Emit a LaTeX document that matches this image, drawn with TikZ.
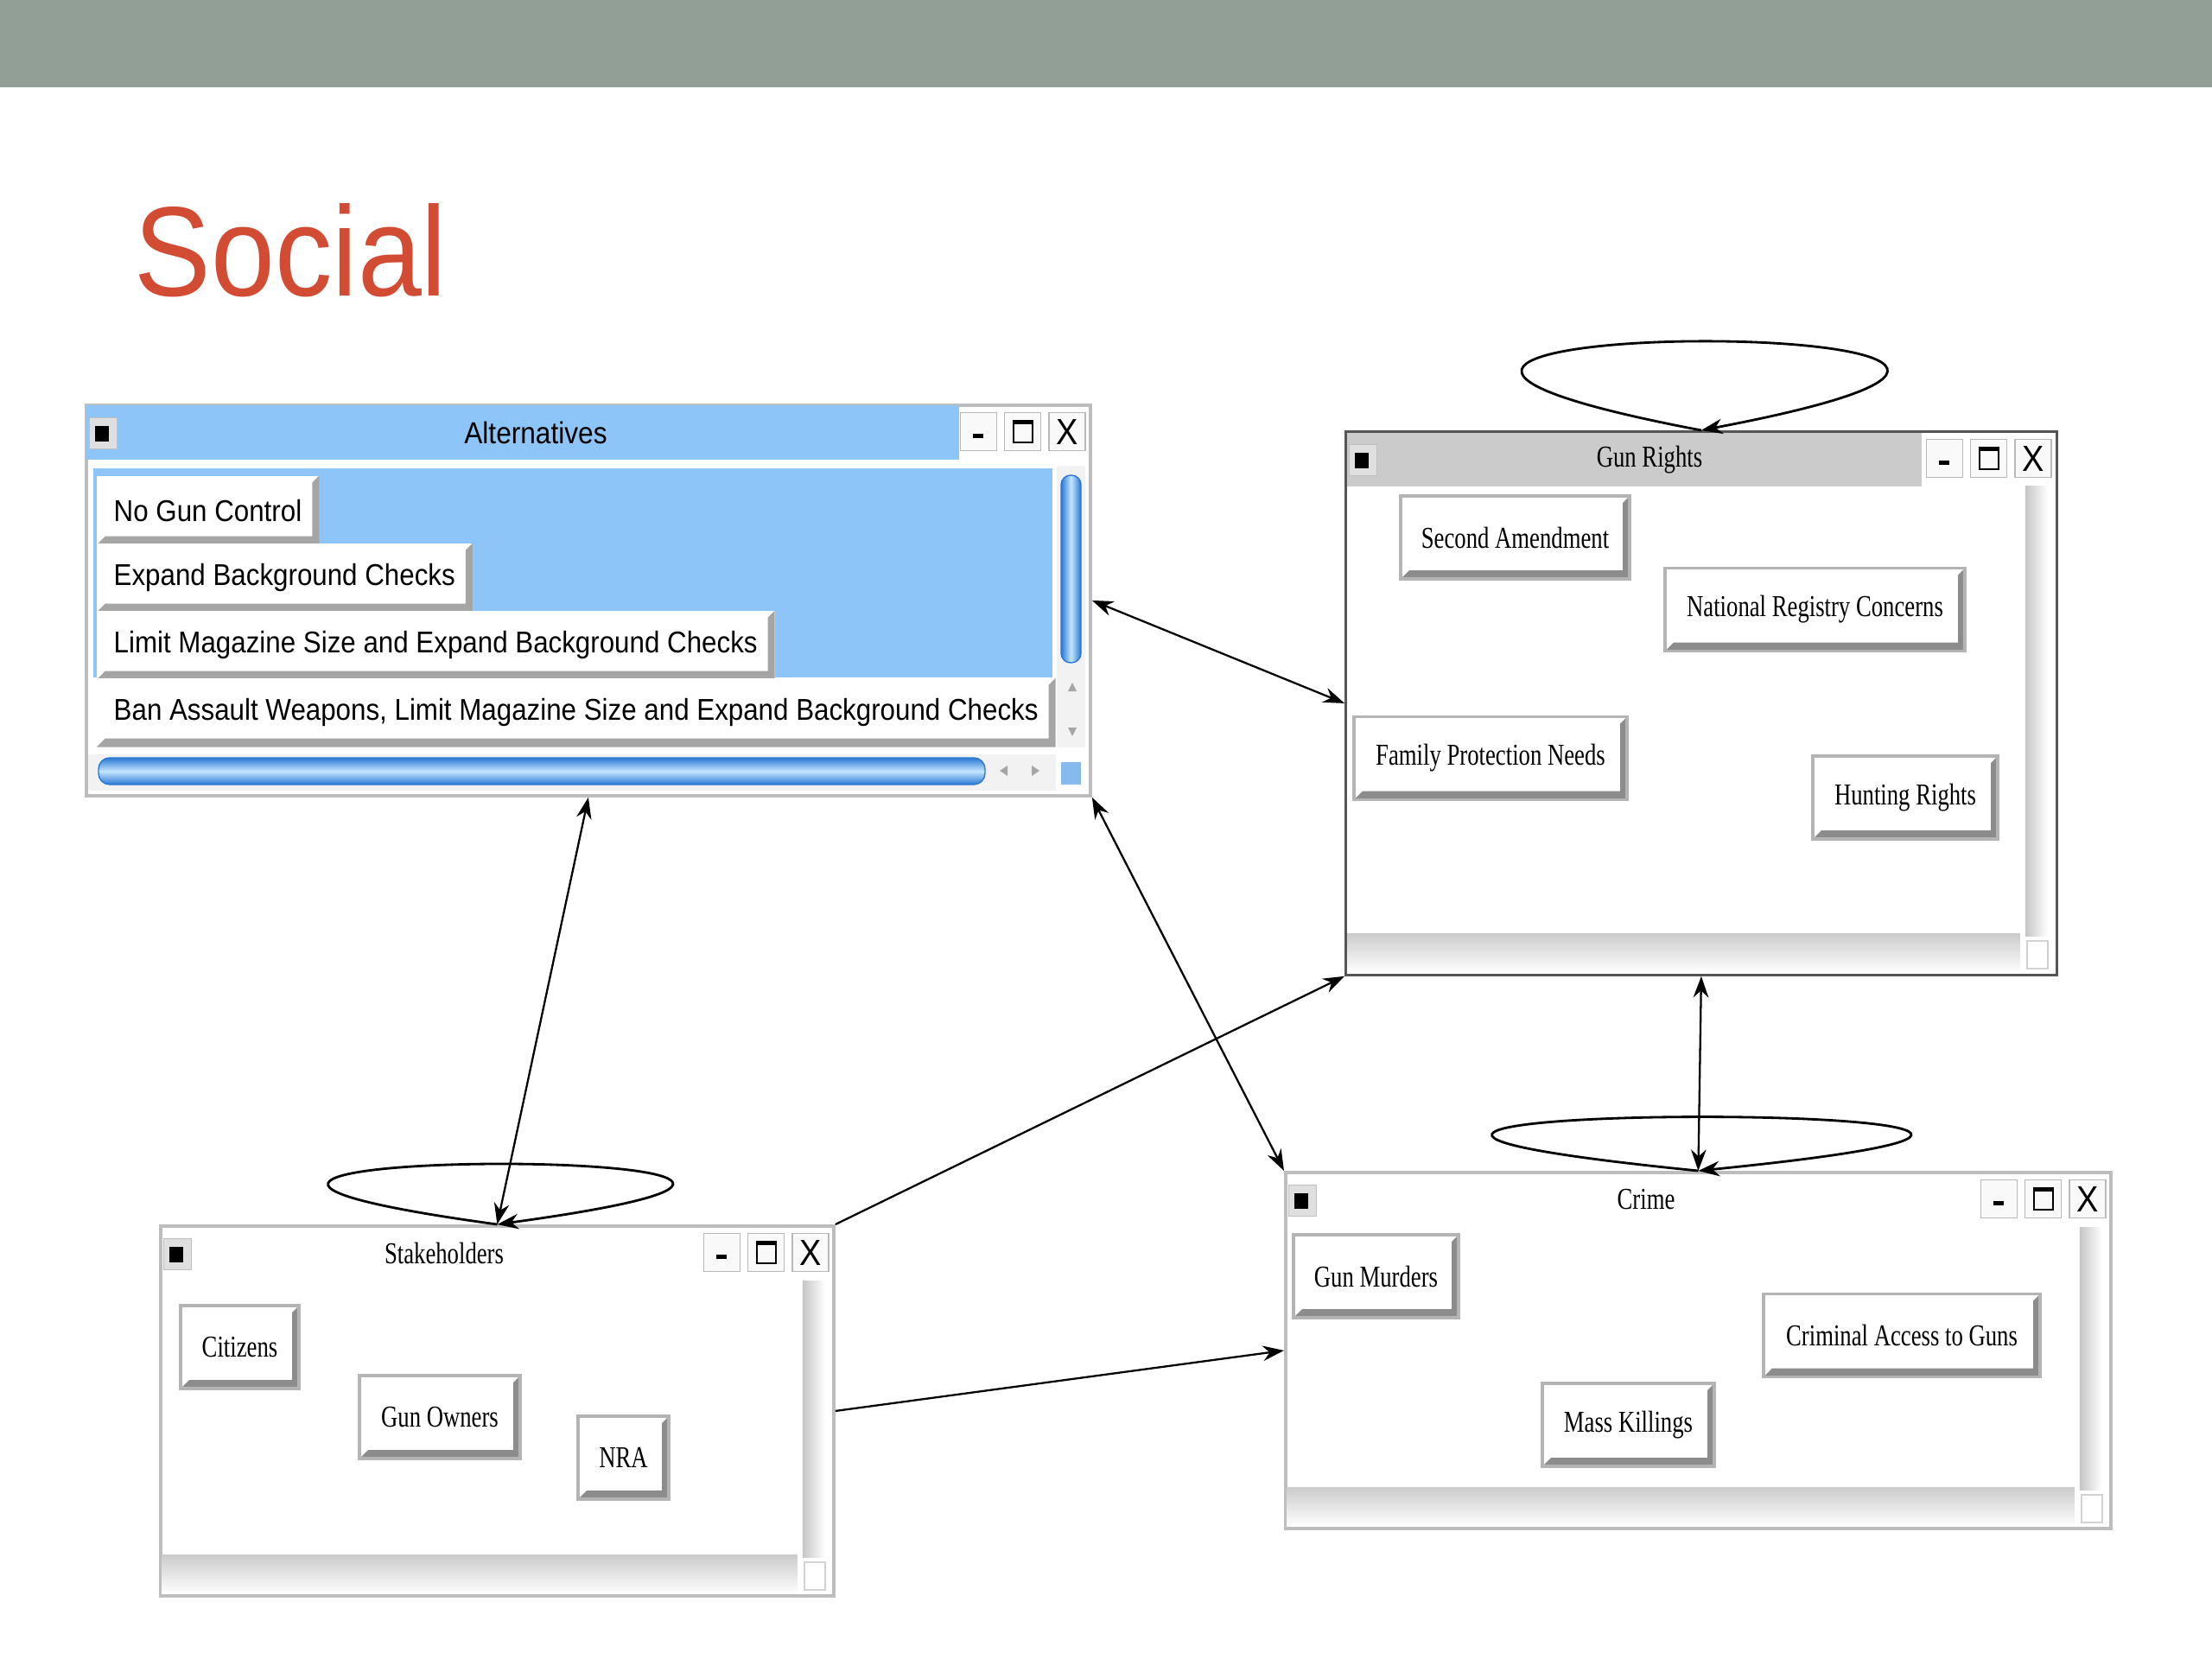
\documentclass[tikz,border=0pt]{standalone}
\usepackage{fontspec}
\setmainfont{Liberation Serif}
\newfontfamily\winserif[FakeStretch=0.76]{Liberation Serif}
\newfontfamily\winsans[FakeStretch=0.9]{Liberation Sans}
\usetikzlibrary{arrows.meta,positioning}

\definecolor{bandGray}{HTML}{919F97}
\definecolor{titleRed}{HTML}{D24C33}
\definecolor{altBlue}{HTML}{8EC5F8}
\definecolor{barGray}{HTML}{CBCBCB}
\definecolor{edgeGray}{HTML}{BDBDBD}
\definecolor{edgeDark}{HTML}{555555}
\definecolor{btnEdge}{HTML}{B4B4B4}
\definecolor{btnShade}{HTML}{8C8C8C}
\definecolor{itemShade}{HTML}{A5A5A5}
\definecolor{aquaDark}{HTML}{2A78D4}
\definecolor{aquaLight}{HTML}{C4E6FF}

\begin{document}
\begin{tikzpicture}[
    winBox/.style={draw=edgeGray, line width=1.1pt, fill=white, inner sep=0pt, anchor=north west},
    winTitle/.style={font=\winserif\fontsize{10}{12}\selectfont},
    winCtl/.style={draw=gray!55, fill=gray!5, line width=0.4pt, minimum width=0.42cm, minimum height=0.44cm, inner sep=0pt, anchor=north east},
    winIco/.style={draw=gray!50, fill=gray!25, minimum width=0.32cm, minimum height=0.36cm, inner sep=0pt, anchor=north west},
    bevel/.style={path picture={
        \fill[#1] (path picture bounding box.south west) -- (path picture bounding box.south east)
          -- (path picture bounding box.north east) -- ([xshift=-0.08cm,yshift=-0.08cm]path picture bounding box.north east)
          -- ([xshift=-0.08cm,yshift=0.1cm]path picture bounding box.south east)
          -- ([xshift=0.1cm,yshift=0.1cm]path picture bounding box.south west) -- cycle;}},
    factBtn/.style={draw=btnEdge, line width=1.1pt, fill=white, bevel=btnShade, minimum height=0.96cm, inner sep=0pt, font=\winserif\fontsize{10}{12}\selectfont},
    altItem/.style={fill=white, bevel=itemShade, minimum height=0.8cm, inner xsep=0.2cm, anchor=north west, font=\winsans\fontsize{9.9}{11}\selectfont},
    link/.style={-{Stealth[length=7pt,width=5pt]}, line width=0.65pt},
    link2/.style={{Stealth[length=7pt,width=5pt]}-{Stealth[length=7pt,width=5pt]}, line width=0.65pt},
    selfLoop/.style={-{Stealth[length=7pt,width=5pt]}, line width=0.8pt},
]
\useasboundingbox (0,0) rectangle (25.6,-19.2);
\fill[white] (0,0) rectangle (25.6,-19.2);
\fill[bandGray] (0,0) rectangle (25.6,-1.01);
\node[anchor=base west, inner sep=0pt, text=titleRed, font=\winsans\fontsize{42}{46}\selectfont] (slideT) at (1.55,-3.43) {Social};

% Windows
\node[winBox, minimum width=11.62cm, minimum height=4.52cm] (alt) at (0.98,-4.67) {};
\node[winBox, draw=edgeDark, line width=0.8pt, minimum width=8.23cm, minimum height=6.29cm] (gunr) at (15.56,-4.98) {};
\node[winBox, minimum width=7.79cm, minimum height=4.28cm] (stake) at (1.84,-14.17) {};
\node[winBox, minimum width=9.55cm, minimum height=4.12cm] (crime) at (14.86,-13.55) {};

% Title bars
\fill[altBlue] (1.00,-4.69) rectangle (11.10,-5.32);
\fill[barGray] (15.59,-5.01) rectangle (22.24,-5.63);
\node[font=\winsans\fontsize{10}{12}\selectfont] (altT) at (6.20,-5.01) {Alternatives};
\node[winTitle] (gunrT) at (19.09,-5.32) {Gun Rights};
\node[winTitle] (stakeT) at (5.14,-14.50) {Stakeholders};
\node[winTitle] (crimeT) at (19.05,-13.88) {Crime};

% Window controls
\foreach \w in {alt,gunr,stake,crime} {
  \node[winIco] (\w-ico) at ([xshift=0.05cm,yshift=-0.16cm]\w.north west) {};
  \fill ([xshift=-0.1cm,yshift=-0.09cm]\w-ico.center) rectangle ([xshift=0.06cm,yshift=0.09cm]\w-ico.center);
  \node[winCtl] (\w-cls) at ([xshift=-0.07cm,yshift=-0.1cm]\w.north east) {\winsans\fontsize{12}{12}\selectfont X};
  \node[winCtl, left=0.08cm of \w-cls] (\w-max) {};
  \node[winCtl, left=0.08cm of \w-max] (\w-min) {};
  \fill ([xshift=-0.06cm,yshift=-0.07cm]\w-min.center) rectangle ([xshift=0.06cm,yshift=-0.02cm]\w-min.center);
  \draw[line width=0.6pt] ([xshift=-0.11cm,yshift=-0.12cm]\w-max.center) rectangle ([xshift=0.11cm,yshift=0.13cm]\w-max.center);
  \fill ([xshift=-0.11cm,yshift=0.09cm]\w-max.center) rectangle ([xshift=0.11cm,yshift=0.13cm]\w-max.center);
}

% Scroll bars
\foreach \w in {gunr,stake,crime} {
  \shade[left color=gray!45, right color=white] ([xshift=-0.38cm,yshift=-0.65cm]\w.north east) rectangle ([xshift=-0.12cm,yshift=0.46cm]\w.south east);
  \shade[top color=gray!40, bottom color=white] ([xshift=0.03cm,yshift=0.49cm]\w.south west) rectangle ([xshift=-0.44cm,yshift=0.04cm]\w.south east);
  \draw[gray!35, fill=white] ([xshift=-0.36cm,yshift=0.41cm]\w.south east) rectangle ([xshift=-0.12cm,yshift=0.09cm]\w.south east);
}
\fill[gray!10] (12.23,-5.39) rectangle (12.56,-8.65);
\shade[rounded corners=0.11cm, left color=aquaDark, right color=aquaDark, middle color=aquaLight, draw=aquaDark] (12.28,-5.50) rectangle (12.51,-7.67);
\fill[gray!70] (12.36,-8.00) -- (12.46,-8.00) -- (12.41,-7.90) -- cycle;
\fill[gray!70] (12.36,-8.42) -- (12.46,-8.42) -- (12.41,-8.52) -- cycle;
\fill[gray!10] (1.02,-8.73) rectangle (12.22,-9.15);
\shade[rounded corners=0.13cm, top color=aquaDark, bottom color=aquaDark, middle color=aquaLight, draw=aquaDark] (1.14,-8.77) rectangle (11.40,-9.08);
\fill[gray!70] (11.57,-8.92) -- (11.66,-8.86) -- (11.66,-8.98) -- cycle;
\fill[gray!70] (12.03,-8.92) -- (11.94,-8.86) -- (11.94,-8.98) -- cycle;
\fill[aquaLight!60!aquaDark] (12.28,-8.82) rectangle (12.51,-9.08);

% Alternatives list
\fill[altBlue] (1.08,-5.42) rectangle (12.18,-7.84);
\node[altItem] (altNone) at (1.11,-5.50) {No Gun Control};
\node[altItem] (altExp) at (1.11,-6.28) {Expand Background Checks};
\node[altItem] (altLim) at (1.11,-7.06) {Limit Magazine Size and Expand Background Checks};
\node[altItem] (altBan) at (1.11,-7.84) {Ban Assault Weapons, Limit Magazine Size and Expand Background Checks};

% Gun Rights factors
\node[factBtn, minimum width=2.65cm] (secAmd) at (17.535,-6.22) {Second Amendment};
\node[factBtn, minimum width=3.47cm] (natReg) at (21.005,-7.055) {National Registry Concerns};
\node[factBtn, minimum width=3.16cm] (famProt) at (17.25,-8.775) {Family Protection Needs};
\node[factBtn, minimum width=2.14cm] (huntRt) at (22.05,-9.23) {Hunting Rights};

% Stakeholders factors
\node[factBtn, minimum width=1.37cm] (citizens) at (2.775,-15.59) {Citizens};
\node[factBtn, minimum width=1.86cm] (gunOwn) at (5.09,-16.40) {Gun Owners};
\node[factBtn, minimum width=1.05cm] (nra) at (7.215,-16.87) {NRA};

% Crime factors
\node[factBtn, minimum width=1.91cm] (gunMurd) at (15.925,-14.77) {Gun Murders};
\node[factBtn, minimum width=3.20cm] (critAcc) at (22.01,-15.455) {Criminal Access to Guns};
\node[factBtn, minimum width=1.99cm] (massKill) at (18.845,-16.49) {Mass Killings};

% Links
\draw[link2] (alt.east) -- (gunr.west);
\draw[link2] (alt.south) -- (stake.north);
\draw[link2] (alt.south east) -- (crime.north west);
\draw[link] (stake.north east) -- (gunr.south west);
\draw[link] (stake.east) -- (crime.west);
\draw[link2] (gunr.south) -- (crime.north);

% Self loops
\draw[selfLoop] (gunr.north) .. controls +(-7.21,1.37) and +(7.21,1.37) .. (gunr.north);
\draw[selfLoop] (stake.north) .. controls +(-6.79,0.93) and +(6.79,0.93) .. (stake.north);
\draw[selfLoop] (crime.north) .. controls +(-8.28,0.83) and +(8.28,0.83) .. (crime.north);
\end{tikzpicture}
\end{document}
